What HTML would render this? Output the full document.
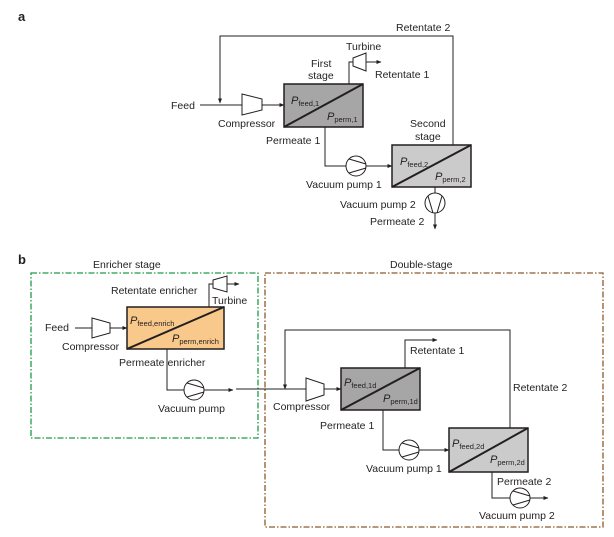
<!DOCTYPE html>
<html><head><meta charset="utf-8"><style>
html,body{margin:0;padding:0;background:#fff}
svg{display:block}
text{font-family:"Liberation Sans",sans-serif;font-size:10.5px;fill:#231f20}
.s{font-size:7.5px}
.i{font-style:italic;font-size:11px}
</style></head><body>
<svg width="614" height="537" viewBox="0 0 614 537" xmlns="http://www.w3.org/2000/svg">
<defs>
<marker id="ar" viewBox="0 0 10 10" refX="9" refY="5" markerWidth="5" markerHeight="5" orient="auto"><path d="M0,1 L10,5 L0,9 Z" fill="#231f20"/></marker>
</defs>
<g stroke="#231f20" stroke-width="1" fill="none">
<!-- a -->
<polyline points="453,145 453,36 220,36 220,103" marker-end="url(#ar)"/>
<line x1="200" y1="105" x2="242" y2="105"/>
<polygon points="242,94 262,99 262,110 242,115" fill="#fff"/>
<line x1="262" y1="105" x2="284" y2="105" marker-end="url(#ar)"/>
<polyline points="349,84 349,62 353,62"/>
<polygon points="353,58 366,53 366,71 353,66" fill="#fff"/>
<line x1="366" y1="62" x2="381" y2="62" marker-end="url(#ar)"/>
<polyline points="325,127 325,166 346,166"/>
<line x1="366" y1="166" x2="392" y2="166" marker-end="url(#ar)"/>
<line x1="435" y1="187" x2="435" y2="193"/>
<line x1="435" y1="213" x2="435" y2="229" marker-end="url(#ar)"/>
<!-- b -->
<rect x="31" y="273" width="227" height="165" stroke="#1f9a48" stroke-width="1.3" stroke-dasharray="6,2,1.5,2"/>
<rect x="265" y="273" width="338" height="254" stroke="#8b5a2b" stroke-width="1.3" stroke-dasharray="6,2,1.5,2"/>
<line x1="75" y1="328" x2="92" y2="328"/>
<polygon points="92,318 110,323 110,333 92,338" fill="#fff"/>
<line x1="110" y1="328" x2="127" y2="328" marker-end="url(#ar)"/>
<polyline points="209,307 209,284 213,284"/>
<polygon points="213,280 227,276 227,292 213,288" fill="#fff"/>
<line x1="227" y1="284" x2="239" y2="284" marker-end="url(#ar)"/>
<polyline points="167,349 167,390 184,390"/>
<line x1="204" y1="390" x2="233" y2="390" marker-end="url(#ar)"/>
<line x1="236" y1="389" x2="306" y2="389"/>
<polyline points="510,428 510,330 285,330 285,389" marker-end="url(#ar)"/>
<polygon points="306,378 324,384 324,395 306,401" fill="#fff"/>
<line x1="324" y1="389" x2="341" y2="389" marker-end="url(#ar)"/>
<polyline points="405,368 405,340 437,340" marker-end="url(#ar)"/>
<polyline points="383,410 383,450 399,450"/>
<line x1="419" y1="450" x2="449" y2="450" marker-end="url(#ar)"/>
<polyline points="492,472 492,498 510,498"/>
<line x1="530" y1="498" x2="548" y2="498" marker-end="url(#ar)"/>
</g>
<!-- boxes -->
<g stroke="#231f20" stroke-width="1.5">
<rect x="284" y="84" width="79" height="43" fill="#a6a6a6"/>
<line x1="284" y1="127" x2="363" y2="84" stroke-width="2"/>
<rect x="392" y="145" width="79" height="42" fill="#cbcbcb"/>
<line x1="392" y1="187" x2="471" y2="145" stroke-width="2"/>
<rect x="127" y="307" width="97" height="42" fill="#f8c98b"/>
<line x1="127" y1="349" x2="224" y2="307" stroke-width="2"/>
<rect x="341" y="368" width="79" height="42" fill="#a6a6a6"/>
<line x1="341" y1="410" x2="420" y2="368" stroke-width="2"/>
<rect x="449" y="428" width="79" height="44" fill="#cbcbcb"/>
<line x1="449" y1="472" x2="528" y2="428" stroke-width="2"/>
</g>
<!-- pumps -->
<g stroke="#231f20" stroke-width="1" fill="#fff">
<circle cx="356" cy="166" r="10"/><path d="M349,159 L366,164 M349,173 L366,168" fill="none"/>
<circle cx="435" cy="203" r="10"/><path d="M428,196 L433,213 M442,196 L437,213" fill="none"/>
<circle cx="194" cy="390" r="10"/><path d="M187,383 L204,388 M187,397 L204,392" fill="none"/>
<circle cx="409" cy="450" r="10"/><path d="M402,443 L419,448 M402,457 L419,452" fill="none"/>
<circle cx="520" cy="498" r="10"/><path d="M513,491 L530,496 M513,505 L530,500" fill="none"/>
</g>
<!-- text a -->
<text x="18" y="21" style="font-weight:bold;font-size:13px">a</text>
<text x="396" y="31">Retentate 2</text>
<text x="346" y="50">Turbine</text>
<text x="311" y="67">First</text>
<text x="308" y="79">stage</text>
<text x="375" y="78">Retentate 1</text>
<text x="171" y="109">Feed</text>
<text x="218" y="127">Compressor</text>
<text x="266" y="144">Permeate 1</text>
<text x="410" y="127">Second</text>
<text x="415" y="140">stage</text>
<text x="306" y="188">Vacuum pump 1</text>
<text x="340" y="208">Vacuum pump 2</text>
<text x="370" y="225">Permeate 2</text>
<text x="291" y="104" class="i">P<tspan class="s" font-style="normal" dy="2">feed,1</tspan></text>
<text x="327" y="120" class="i">P<tspan class="s" font-style="normal" dy="2">perm,1</tspan></text>
<text x="400" y="165" class="i">P<tspan class="s" font-style="normal" dy="2">feed,2</tspan></text>
<text x="435" y="180" class="i">P<tspan class="s" font-style="normal" dy="2">perm,2</tspan></text>
<!-- text b -->
<text x="18" y="264" style="font-weight:bold;font-size:13px">b</text>
<text x="93" y="268">Enricher stage</text>
<text x="390" y="268">Double-stage</text>
<text x="111" y="294">Retentate enricher</text>
<text x="212" y="304">Turbine</text>
<text x="45" y="331">Feed</text>
<text x="62" y="350">Compressor</text>
<text x="119" y="366">Permeate enricher</text>
<text x="158" y="412">Vacuum pump</text>
<text x="130" y="324" class="i">P<tspan class="s" font-style="normal" dy="2">feed,enrich</tspan></text>
<text x="172" y="342" class="i">P<tspan class="s" font-style="normal" dy="2">perm,enrich</tspan></text>
<text x="410" y="354">Retentate 1</text>
<text x="513" y="391">Retentate 2</text>
<text x="273" y="410">Compressor</text>
<text x="320" y="429">Permeate 1</text>
<text x="366" y="472">Vacuum pump 1</text>
<text x="497" y="485">Permeate 2</text>
<text x="479" y="519">Vacuum pump 2</text>
<text x="344" y="386" class="i">P<tspan class="s" font-style="normal" dy="2">feed,1d</tspan></text>
<text x="383" y="402" class="i">P<tspan class="s" font-style="normal" dy="2">perm,1d</tspan></text>
<text x="452" y="447" class="i">P<tspan class="s" font-style="normal" dy="2">feed,2d</tspan></text>
<text x="490" y="463" class="i">P<tspan class="s" font-style="normal" dy="2">perm,2d</tspan></text>
</svg>
</body></html>
